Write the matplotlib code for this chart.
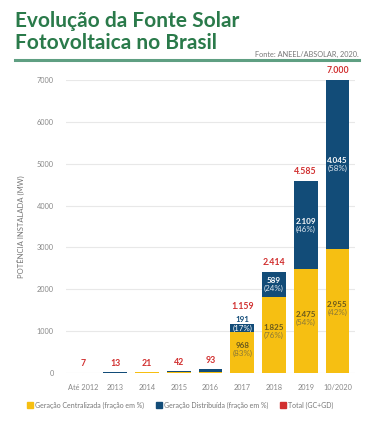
import matplotlib.pyplot as plt
from matplotlib.lines import Line2D

plt.rcParams['font.family'] = ['Lato', 'DejaVu Sans']

# Data (MW)
anos = ['Até 2012', '2013', '2014', '2015', '2016', '2017', '2018', '2019', '10/2020']
gc = [5, 9, 15, 21, 24, 968, 1825, 2475, 2955]
gd = [2, 4, 6, 21, 69, 191, 589, 2109, 4045]
total = [7, 13, 21, 42, 93, 1159, 2414, 4585, 7000]
pct_gc = [None, None, None, None, None, 83, 76, 54, 42]
pct_gd = [None, None, None, None, None, 17, 24, 46, 58]

amarelo = '#f6bf12'
azul = '#124c78'
vermelho = '#d12f2f'
verde = '#2a7a4a'


def fmt(v):
    return f'{v:,}'.replace(',', '.')


fig = plt.figure(figsize=(3.76, 4.21), dpi=100)
ax = fig.add_axes([0.176, 0.114, 0.768, 0.696])

x = range(len(anos))
ax.bar(x, gc, width=0.75, color=amarelo, zorder=2)
ax.bar(x, gd, width=0.75, bottom=gc, color=azul, zorder=2)

for i in x:
    # total em vermelho
    off = 320 if i == 5 else 110
    ax.text(i, total[i] + off, fmt(total[i]), ha='center', va='bottom',
            color=vermelho, fontsize=6.3, fontweight='bold')
    if pct_gc[i] is None:
        continue
    # segmento centralizado
    yc = gc[i] / 2
    ax.text(i, yc + 80, fmt(gc[i]), ha='center', va='bottom',
            color='#6b5a1c', fontsize=5.8, fontweight='bold')
    ax.text(i, yc + 60, f'({pct_gc[i]}%)', ha='center', va='top',
            color='#8a7838', fontsize=5.8)
    # segmento distribuido
    if i == 5:
        ax.text(i, total[i] + 30, fmt(gd[i]), ha='center', va='bottom',
                color=azul, fontsize=5.8, fontweight='bold')
        ax.text(i, gc[i] + gd[i] / 2, f'({pct_gd[i]}%)', ha='center',
                va='center', color='white', fontsize=5.8)
    else:
        yd = gc[i] + gd[i] / 2
        ax.text(i, yd + 10, fmt(gd[i]), ha='center', va='bottom',
                color='white', fontsize=5.8, fontweight='bold')
        ax.text(i, yd - 10, f'({pct_gd[i]}%)', ha='center', va='top',
                color='#dfe8f0', fontsize=5.8)

ax.set_ylim(0, 7000)
ax.set_xlim(-0.55, len(anos) - 0.45)
ax.set_yticks(range(0, 7001, 1000))
ax.set_xticks(list(x))
ax.set_xticklabels(anos)
ax.tick_params(axis='both', length=0, labelsize=5.3, colors='#888888')
ax.tick_params(axis='y', pad=9)
ax.tick_params(axis='x', pad=8)
for s in ax.spines.values():
    s.set_visible(False)
ax.grid(axis='y', color='#e8e8e8', linewidth=0.8, zorder=0)
ax.set_axisbelow(True)
ax.set_ylabel('POTÊNCIA INSTALADA (MW)', fontsize=5.5, color='#777777', labelpad=8)

# titulo
fig.text(0.04, 0.975, 'Evolução da Fonte Solar\nFotovoltaica no Brasil',
         ha='left', va='top', fontsize=15, fontweight='bold', color=verde,
         linespacing=1.15)
fig.text(0.955, 0.862, 'Fonte: ANEEL/ABSOLAR, 2020.', ha='right', va='bottom',
         fontsize=5.3, color='#777777')
fig.add_artist(Line2D([0.04, 0.955], [0.857, 0.857], color='#5f9f82', linewidth=2.2))

handles = [
    Line2D([], [], marker='s', linestyle='', color=amarelo, markersize=4),
    Line2D([], [], marker='s', linestyle='', color=azul, markersize=4),
    Line2D([], [], marker='s', linestyle='', color=vermelho, markersize=4),
]
labels = ['Geração Centralizada (fração em %)', 'Geração Distribuída (fração em %)',
          'Total (GC+GD)']
leg = fig.legend(handles, labels, loc='center left', bbox_to_anchor=(0.055, 0.038),
                 ncol=3, frameon=False, fontsize=5, handletextpad=0.2,
                 columnspacing=1.6, handlelength=1)
for t in leg.get_texts():
    t.set_color('#777777')

fig.savefig('out.png', dpi=100)
